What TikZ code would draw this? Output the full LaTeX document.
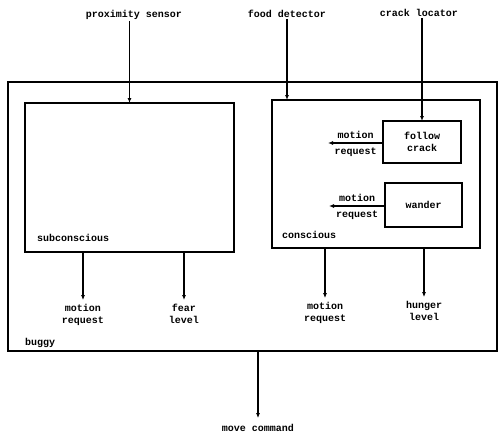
\documentclass[tikz,border=0pt]{standalone}
\usepackage{fontspec}
\setmonofont{Liberation Mono}
\usetikzlibrary{arrows.meta,positioning}

\begin{document}
\begin{tikzpicture}[
  x=1pt, y=-1pt,
  box/.style={
    draw=black,
    line width=1.2pt,
    inner sep=0pt,
    outer sep=0pt
  },
  line/.style={-{Latex[length=5pt,width=4pt]}, line width=1.1pt, draw=black},
  lbl/.style={font=\ttfamily\bfseries\fontsize{10}{12}\selectfont, align=center, inner sep=1pt},
  tag/.style={font=\ttfamily\bfseries\fontsize{10}{12}\selectfont, anchor=west, inner sep=0pt}
]
\useasboundingbox (0,0) rectangle (498,436);

% ===== Boxes =====
\node[box, minimum width=489pt, minimum height=269pt] (buggy) at (252.5,216.5) {};
\node[box, minimum width=209pt, minimum height=149pt] (sub) at (129.5,177.5) {};
\node[box, minimum width=208pt, minimum height=148pt] (cons) at (376,174) {};
\node[box, minimum width=78pt, minimum height=42pt, lbl] (follow) at (422,142) {follow\\crack};
\node[box, minimum width=77pt, minimum height=44pt, lbl] (wander) at (423.5,205) {wander};

% box names
\node[tag] (subtag) at (37,238) {subconscious};
\node[tag] (constag) at (282,235) {conscious};
\node[tag] (buggytag) at (25,343) {buggy};

% ===== Sensor inputs =====
\node[lbl] (prox) at (134,15) {proximity sensor};
\node[lbl] (food) at (287,14) {food detector};
\node[lbl] (crack) at (419,13) {crack locator};
\draw[line] (prox.south -| sub.north) -- (sub.north);
\draw[line] (food.south) -- (food.south |- cons.north);
\draw[line] (crack.south -| follow.north) -- (follow.north);

% ===== Inner motion requests =====
\coordinate (fend) at (328,143);
\coordinate (wend) at (329,206);
\draw[line] (follow.west |- fend) -- (fend)
  node[midway, above=3pt, lbl] {motion}
  node[midway, below=3pt, lbl] {request};
\draw[line] (wander.west |- wend) -- (wend)
  node[midway, above=3pt, lbl] {motion}
  node[midway, below=3pt, lbl] {request};

% ===== Outputs =====
\node[lbl] (submr) at (83,315) {motion\\request};
\node[lbl] (fear) at (184,314) {fear\\level};
\node[lbl] (consmr) at (325,313) {motion\\request};
\node[lbl] (hunger) at (424,311) {hunger\\level};
\draw[line, shorten >=3pt] (submr.north |- sub.south) -- (submr.north);
\draw[line, shorten >=3pt] (fear.north |- sub.south) -- (fear.north);
\draw[line, shorten >=3pt] (consmr.north |- cons.south) -- (consmr.north);
\draw[line, shorten >=3pt] (hunger.north |- cons.south) -- (hunger.north);

% ===== Move command =====
\node[lbl] (move) at (258,428) {move command};
\draw[line, shorten >=5pt] (move.north |- buggy.south) -- (move.north);

\end{tikzpicture}
\end{document}
